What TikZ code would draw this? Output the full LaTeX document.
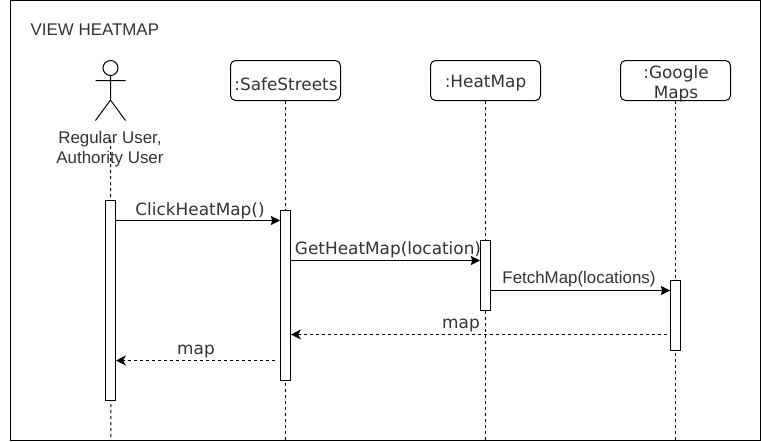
\documentclass[tikz,border=0pt]{standalone}
\usepackage{fontspec}
\setmainfont{Liberation Sans}
\newfontfamily\djv{DejaVu Sans}
\usetikzlibrary{arrows.meta}
\definecolor{inktext}{HTML}{333333}
\tikzset{
  x=1pt,y=-1pt,
  every node/.style={inner sep=0pt,text=inktext},
  obj/.style={draw=black,fill=white,line width=1pt,rounded corners=5pt,minimum width=110pt,minimum height=40pt,align=center},
  act/.style={draw=black,fill=white,line width=1pt,minimum width=10pt},
  life/.style={draw=black,line width=1pt,dash pattern=on 3pt off 3pt},
  msg/.style={draw=black,line width=1pt,-{Stealth[length=9pt,width=9pt,inset=1pt]}},
  ret/.style={draw=black,line width=1pt,dash pattern=on 3pt off 3pt,-{Stealth[length=10pt,width=10pt,inset=3pt]}},
  lab/.style={font=\fontsize{16.9pt}{20pt}\selectfont},
  vlab/.style={font=\djv\fontsize{16.9pt}{20pt}\selectfont},
}
\begin{document}
\begin{tikzpicture}
\useasboundingbox (0,0) rectangle (761,442);
\fill[white] (0,0) rectangle (761,442);
\draw[line width=1pt] (10.5,0.5) rectangle (760.5,440.5);
\node[anchor=west,font=\fontsize{16.9pt}{20pt}\selectfont] (title) at (30.5,30) {VIEW HEATMAP};
% lifeline ends
\coordinate (u0) at (110.5,140);
\coordinate (ub) at (111,440);
\coordinate (sb) at (285.5,440);
\coordinate (hb) at (485.5,440);
\coordinate (gb) at (675.5,440);
% objects
\node[obj] (safe) at (285.5,80.5) {};
\node[obj] (heat) at (485.5,80.5) {};
\node[obj] (goog) at (675.5,80.5) {};
\node[vlab] (safet) at (286,84) {:SafeStreets};
\node[vlab] (heatt) at (485.5,83) {:HeatMap};
\node[vlab,align=center] (googt) at (676,84) {:Google\\Maps};
% lifelines
\draw[life] (safe.south) -- (sb);
\draw[life] (heat.south) -- (hb);
\draw[life] (goog.south) -- (gb);
\draw[life] (u0) -- (ub);
% actor
\node[draw=black,line width=1pt,circle,minimum size=15pt,fill=white] (head) at (110.5,68) {};
\coordinate (hip) at (110.5,100);
\coordinate (armL) at (95.5,80.5);
\coordinate (armR) at (125.5,80.5);
\coordinate (legL) at (95.5,120.5);
\coordinate (legR) at (125.5,120.5);
\draw[line width=1pt] (head.south) -- (hip) (armL) -- (armR) (legL) -- (hip) -- (legR);
\node[lab,align=center] (actor) at (110,149.5) {Regular User,\\Authority User};
% activations
\node[act,minimum height=200pt] (a1) at (110.5,300.5) {};
\node[act,minimum height=170pt] (a2) at (285.5,295.5) {};
\node[act,minimum height=70pt] (a3) at (485.5,275.5) {};
\node[act,minimum height=70pt] (a4) at (675.5,315.5) {};
% message levels
\coordinate (m1) at (0,220.5);
\coordinate (m2) at (0,260.5);
\coordinate (m3) at (0,290.5);
\coordinate (m4) at (0,334.5);
\coordinate (m5) at (0,360.5);
\draw[msg] (a1.east |- m1) -- (a2.west |- m1);
\draw[msg] (a2.east |- m2) -- (a3.west |- m2);
\draw[msg] (a3.east |- m3) -- (a4.west |- m3);
\draw[ret,shorten <=3pt] (a4.west |- m4) -- (a2.east |- m4);
\draw[ret,shorten <=5pt] (a2.west |- m5) -- (a1.east |- m5);
% labels
\node[vlab] (l1) at (200,210.5) {ClickHeatMap()};
\node[vlab] (l2) at (388,249.5) {GetHeatMap(location)};
\node[lab] (l3) at (579,279.5) {FetchMap(locations)};
\node[vlab] (l4) at (461,325.5) {map};
\node[vlab] (l5) at (196,352) {map};
\end{tikzpicture}
\end{document}
